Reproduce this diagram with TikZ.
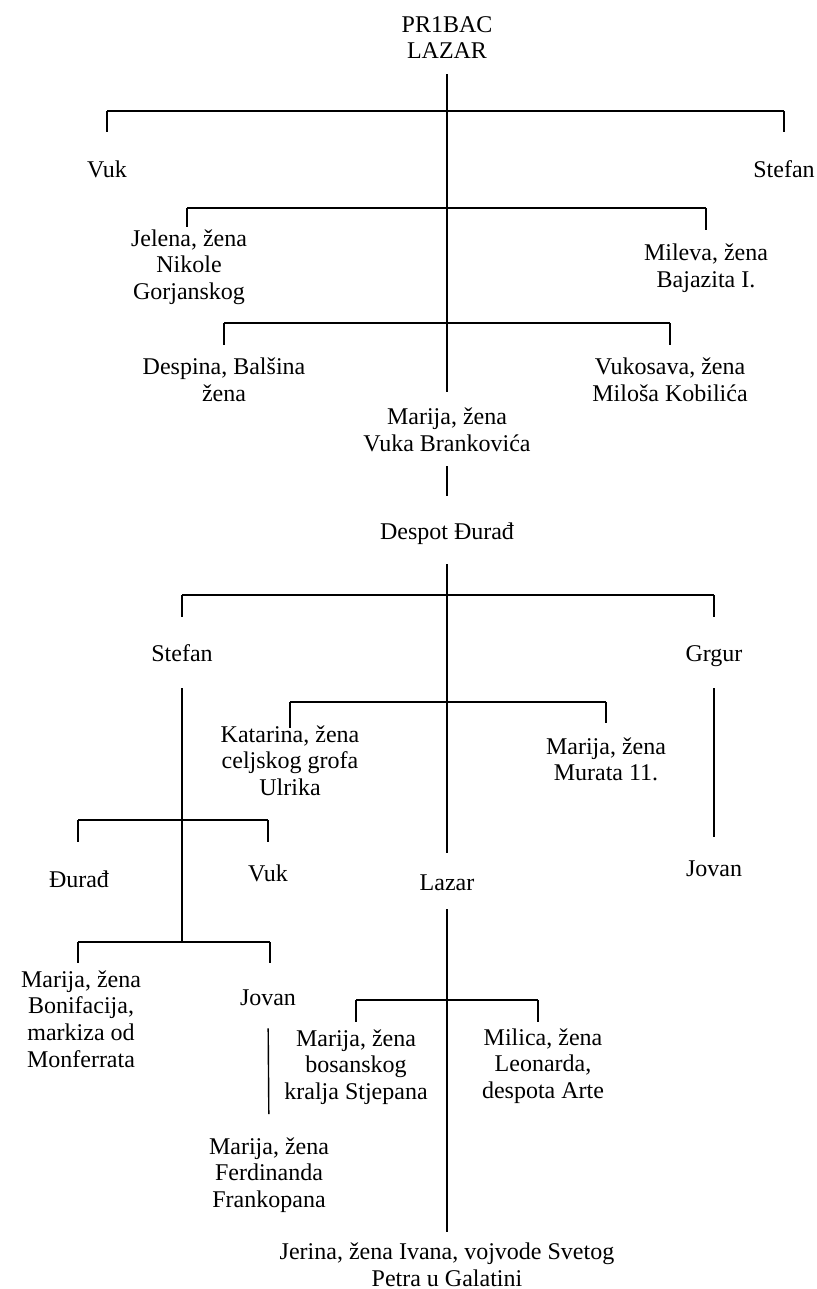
\documentclass[tikz,border=0pt]{standalone}
\usepackage{fontspec}
\setmainfont{Liberation Serif}
\usetikzlibrary{positioning}

\begin{document}
\begin{tikzpicture}[
  x=0.5pt, y=-0.5pt,
  person/.style={align=center, inner sep=0pt, font=\fontsize{12}{13.3}\selectfont},
  single/.style={person, text height=8.5pt, text depth=0.5pt},
  stem/.style={line width=0.7pt},
  bar/.style={line width=1.3pt},
  tick/.style={line width=0.7pt},
]
  \useasboundingbox (0,0) rectangle (816,1289);

  % ---- Lazar and his children -----------------------------------------------
  \node[person] (pribac)   at (447,37.5)  {PR1BAC\\LAZAR};
  \node[single] (vuk)      at (107,170)   {Vuk};
  \node[single] (stefan)   at (784,170)   {Stefan};
  \node[person] (jelena)   at (189,267)   {Jelena, žena\\Nikole\\Gorjanskog};
  \node[person] (mileva)   at (706,268)   {Mileva, žena\\Bajazita I.};
  \node[person] (despina)  at (224,379.5) {Despina, Balšina\\žena};
  \node[person] (vukosava) at (670,379.5) {Vukosava, žena\\Miloša Kobilića};
  \node[person] (marija1)  at (447,430)   {Marija, žena\\Vuka Brankovića};

  \draw[stem, shorten <=7.5pt, shorten >=8pt] (pribac.south) -- (marija1.north);
  \coordinate (b1) at (447,111);
  \coordinate (b2) at (447,208);
  \coordinate (b3) at (447,323);
  \draw[bar] (vuk |- b1) -- (stefan |- b1);
  \draw[bar] ([xshift=-1pt]jelena |- b2) -- (mileva |- b2);
  \draw[bar] (despina |- b3) -- (vukosava |- b3);
  \foreach \c in {vuk,stefan} \draw[tick] (\c |- b1) -- ++(0,21);
  \draw[tick] ([xshift=-1pt]jelena |- b2) -- ++(0,19);
  \draw[tick] (mileva |- b2) -- ++(0,22);
  \foreach \c in {despina,vukosava} \draw[tick] (\c |- b3) -- ++(0,22);

  % ---- Despot Djuradj and his children --------------------------------------
  \node[single] (djurad)   at (447,531)   {Despot Đurađ};
  \node[single] (stefan2)  at (182,653)   {Stefan};
  \node[single] (grgur)    at (714,653)   {Grgur};
  \node[person] (katarina) at (290,760.5) {Katarina, žena\\celjskog grofa\\Ulrika};
  \node[person] (marija2)  at (606,759.5) {Marija, žena\\Murata 11.};
  \node[single] (lazar)    at (447,882)   {Lazar};

  \draw[stem, shorten <=7pt, shorten >=13pt] (marija1.south) -- (djurad.north);
  \draw[stem, shorten <=12pt, shorten >=10pt] (djurad.south) -- (lazar.north);
  \coordinate (b4) at (447,595);
  \coordinate (bk) at (447,702);
  \draw[bar] (stefan2 |- b4) -- (grgur |- b4);
  \draw[bar] (katarina |- bk) -- (marija2 |- bk);
  \foreach \c in {stefan2,grgur} \draw[tick] (\c |- b4) -- ++(0,22);
  \draw[tick] (katarina |- bk) -- ++(0,26);
  \draw[tick] (marija2 |- bk) -- ++(0,21);

  % ---- Stefan's line ----------------------------------------------------------
  \node[single] (djurad2) at (79,879)    {Đurađ};
  \node[single] (vuk2)    at (268,873)   {Vuk};
  \node[person] (marija3) at (81,1019)   {Marija, žena\\Bonifacija,\\markiza od\\Monferrata};
  \node[single] (jovan2)  at (268,997)   {Jovan};
  \node[person] (marija5) at (269,1175)  {Marija, žena\\Ferdinanda\\Frankopana};

  \coordinate (b5) at (182,820);
  \coordinate (b6) at (182,942);
  \draw[stem, shorten <=13pt] (stefan2.south) -- (b6);
  \draw[bar] ([xshift=-0.5pt]djurad2 |- b5) -- (vuk2 |- b5);
  \draw[bar] ([xshift=-1.5pt]marija3 |- b6) -- ([xshift=1pt]jovan2 |- b6);
  \draw[tick] ([xshift=-0.5pt]djurad2 |- b5) -- ++(0,22);
  \draw[tick] (vuk2 |- b5) -- ++(0,22);
  \draw[tick] ([xshift=-1.5pt]marija3 |- b6) -- ++(0,21);
  \draw[tick] ([xshift=1pt]jovan2 |- b6) -- ++(0,21);
  \draw[stem, shorten <=11pt, shorten >=11.5pt] (jovan2.south) -- (marija5.north);

  % ---- Grgur's line -----------------------------------------------------------
  \node[single] (jovan1) at (714,868) {Jovan};
  \draw[stem, shorten <=13pt, shorten >=11pt] (grgur.south) -- (jovan1.north);

  % ---- Lazar's daughters ------------------------------------------------------
  \node[person] (marija4) at (356,1067) {Marija, žena\\bosanskog\\kralja Stjepana};
  \node[person] (milica)  at (543,1066) {Milica, žena\\Leonarda,\\despota Arte};
  \node[person] (jerina)  at (447,1265) {Jerina, žena Ivana, vojvode Svetog\\Petra u Galatini};

  \draw[stem, shorten <=9pt, shorten >=5.5pt] (lazar.south) -- (jerina.north);
  \coordinate (bl) at (447,1000);
  \draw[bar, line width=0.9pt] (marija4 |- bl) -- ([xshift=-2.5pt]milica |- bl);
  \draw[tick] (marija4 |- bl) -- ++(0,22);
  \draw[tick] ([xshift=-2.5pt]milica |- bl) -- ++(0,22);
\end{tikzpicture}
\end{document}
